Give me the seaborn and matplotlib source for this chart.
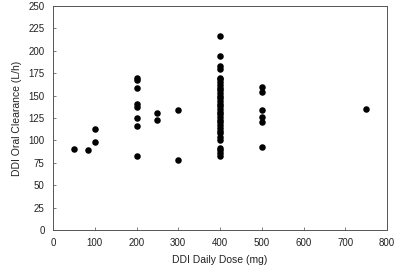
import matplotlib
matplotlib.use("Agg")
import matplotlib.pyplot as plt
import seaborn as sns
import pandas as pd

# daily dose (mg) and oral clearance (L/h)
dose_50 = [50]
cl_50 = [90]
dose_85 = [85]
cl_85 = [89]
dose_100 = [100, 100]
cl_100 = [113, 98]
dose_200 = [200] * 8
cl_200 = [170, 167, 159, 141, 137, 125, 116, 83]
dose_250 = [250, 250]
cl_250 = [131, 123]
dose_300 = [300, 300]
cl_300 = [134, 78]
cl_400 = [216, 194, 183, 180, 170, 168, 165, 162, 159, 156, 153, 150, 147,
          144, 141, 138, 135, 132, 129, 126, 123, 120, 117, 114, 111, 108,
          104, 101, 92, 89, 86, 83]
dose_400 = [400] * len(cl_400)
dose_500 = [500] * 6
cl_500 = [160, 154, 134, 126, 120, 93]
dose_750 = [750]
cl_750 = [135]

df = pd.DataFrame({
    "dose": dose_50 + dose_85 + dose_100 + dose_200 + dose_250 + dose_300 + dose_400 + dose_500 + dose_750,
    "cl": cl_50 + cl_85 + cl_100 + cl_200 + cl_250 + cl_300 + cl_400 + cl_500 + cl_750,
})

sns.set_style("white")
plt.rcParams['font.family'] = ['Liberation Sans', 'DejaVu Sans']

fig = plt.figure(figsize=(4, 2.7), dpi=100)
ax = fig.add_axes([0.1325, 0.148, 0.835, 0.83])
sns.scatterplot(data=df, x="dose", y="cl", color="black", s=22, edgecolor="black",
                linewidth=0, ax=ax)

ax.set_xlim(0, 800)
ax.set_ylim(0, 250)
ax.set_xticks(range(0, 801, 100))
ax.set_yticks(range(0, 251, 25))
ax.tick_params(bottom=True, left=True, direction="in", length=2.5, width=0.6,
               labelsize=7, pad=6, color="#666666", labelcolor="#222222")
ax.set_xlabel("DDI Daily Dose (mg)", fontsize=7.5, color="#222222", labelpad=5)
ax.set_ylabel("DDI Oral Clearance (L/h)", fontsize=7.5, color="#222222", labelpad=5)
for sp in ax.spines.values():
    sp.set_color("#555555")
    sp.set_linewidth(0.7)

fig.savefig("out.png", dpi=100)
